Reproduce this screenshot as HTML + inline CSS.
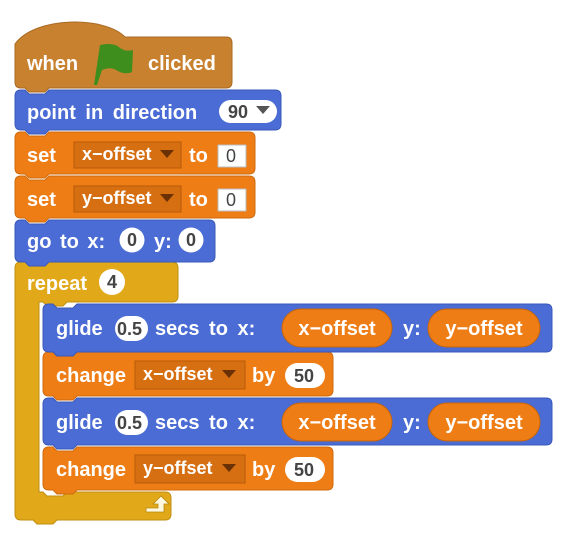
<!DOCTYPE html>
<html><head><meta charset="utf-8"><style>
html,body{margin:0;padding:0;background:#fff;width:569px;height:544px;overflow:hidden}
svg text{font-family:"Liberation Sans",Arial,sans-serif;font-weight:bold}
.w{fill:#fff;font-size:20px}
.d{fill:#444;font-size:18px}
.dd{fill:#fff;font-size:18px}
</style></head><body>
<svg width="569" height="544" viewBox="0 0 569 544" xmlns="http://www.w3.org/2000/svg">
<!-- repeat C -->
<path d="M15,268 q0,-6 6,-6 h151 q6,0 6,6 v28 q0,6 -6,6 h-105 l-4,4 h-16 l-4,-4 h-4 v190 h4 l4,4 h16 l4,-4 h98 q6,0 6,6 v16 q0,6 -6,6 h-108 l-4,4 h-16 l-4,-4 h-12 q-6,0 -6,-6 z" fill="#e1a91a" stroke="#c08f10" stroke-width="1"/>
<path d="M146,512 h18 v-8 h5 l-8,-8 l-8,8 h5 v4 h-12 z" fill="#fff8e0" stroke="#b8860b" stroke-width="0.8"/>

<!-- change y -->
<path d="M43,453 q0,-6 6,-6 h4 l4,4 h16 l4,-4 h250 q6,0 6,6 v31 q0,6 -6,6 h-250 l-4,4 h-16 l-4,-4 h-4 q-6,0 -6,-6 z" fill="#ee7d16" stroke="#cf6a0c"/>
<text class="w" x="56" y="476">change</text>
<rect x="135" y="455" width="110" height="28" fill="#d66f12" stroke="#b85a08"/>
<text class="dd" x="143" y="474">y−offset</text>
<path d="M222,464 h14 l-7,8 z" fill="#6a3204"/>
<text class="w" x="252" y="476">by</text>
<rect x="285" y="457" width="40" height="25" rx="12.5" fill="#fff"/>
<text class="d" x="294" y="476">50</text>

<!-- glide2 -->
<path d="M43,404 q0,-6 6,-6 h4 l4,4 h16 l4,-4 h469 q6,0 6,6 v35 q0,6 -6,6 h-469 l-4,4 h-16 l-4,-4 h-4 q-6,0 -6,-6 z" fill="#4a6cd4" stroke="#3a58b8"/>
<text class="w" x="56" y="429">glide</text>
<rect x="115" y="410" width="33" height="25" rx="12.5" fill="#fff"/>
<text class="d" x="117" y="429">0.5</text>
<text class="w" x="155" y="429" word-spacing="4">secs to x:</text>
<rect x="282" y="403" width="110" height="38" rx="19" fill="#ee7d16" stroke="#c86408"/>
<text class="w" x="337" y="429" text-anchor="middle">x−offset</text>
<text class="w" x="403" y="429">y:</text>
<rect x="428" y="403" width="112" height="38" rx="19" fill="#ee7d16" stroke="#c86408"/>
<text class="w" x="484" y="429" text-anchor="middle">y−offset</text>

<!-- change x -->
<path d="M43,358 q0,-6 6,-6 h4 l4,4 h16 l4,-4 h250 q6,0 6,6 v32 q0,6 -6,6 h-250 l-4,4 h-16 l-4,-4 h-4 q-6,0 -6,-6 z" fill="#ee7d16" stroke="#cf6a0c"/>
<text class="w" x="56" y="382">change</text>
<rect x="135" y="361" width="110" height="28" fill="#d66f12" stroke="#b85a08"/>
<text class="dd" x="143" y="380">x−offset</text>
<path d="M222,370 h14 l-7,8 z" fill="#6a3204"/>
<text class="w" x="252" y="382">by</text>
<rect x="285" y="363" width="40" height="25" rx="12.5" fill="#fff"/>
<text class="d" x="294" y="382">50</text>

<!-- glide1 -->
<path d="M43,310 q0,-6 6,-6 h4 l4,4 h16 l4,-4 h469 q6,0 6,6 v36 q0,6 -6,6 h-469 l-4,4 h-16 l-4,-4 h-4 q-6,0 -6,-6 z" fill="#4a6cd4" stroke="#3a58b8"/>
<text class="w" x="56" y="335">glide</text>
<rect x="115" y="316" width="33" height="25" rx="12.5" fill="#fff"/>
<text class="d" x="117" y="335">0.5</text>
<text class="w" x="155" y="335" word-spacing="4">secs to x:</text>
<rect x="282" y="309" width="110" height="38" rx="19" fill="#ee7d16" stroke="#c86408"/>
<text class="w" x="337" y="335" text-anchor="middle">x−offset</text>
<text class="w" x="403" y="335">y:</text>
<rect x="428" y="309" width="112" height="38" rx="19" fill="#ee7d16" stroke="#c86408"/>
<text class="w" x="484" y="335" text-anchor="middle">y−offset</text>

<text class="w" x="27" y="290">repeat</text>
<circle cx="112" cy="282" r="13" fill="#fff"/>
<text class="d" x="107" y="288">4</text>

<!-- go to -->
<path d="M15,226 q0,-6 6,-6 h4 l4,4 h16 l4,-4 h160 q6,0 6,6 v30 q0,6 -6,6 h-160 l-4,4 h-16 l-4,-4 h-4 q-6,0 -6,-6 z" fill="#4a6cd4" stroke="#3a58b8"/>
<text class="w" x="27" y="248" word-spacing="3">go to x:</text>
<circle cx="132" cy="240" r="12.5" fill="#fff"/>
<text class="d" x="127" y="246">0</text>
<text class="w" x="154" y="248">y:</text>
<circle cx="191" cy="240" r="12.5" fill="#fff"/>
<text class="d" x="186" y="246">0</text>

<!-- set y -->
<path d="M15,182 q0,-6 6,-6 h4 l4,4 h16 l4,-4 h200 q6,0 6,6 v30 q0,6 -6,6 h-200 l-4,4 h-16 l-4,-4 h-4 q-6,0 -6,-6 z" fill="#ee7d16" stroke="#cf6a0c"/>
<text class="w" x="27" y="206">set</text>
<rect x="74" y="186" width="107" height="26" fill="#d66f12" stroke="#b85a08"/>
<text class="dd" x="82" y="204">y−offset</text>
<path d="M160,194 h14 l-7,8 z" fill="#6a3204"/>
<text class="w" x="189" y="206">to</text>
<rect x="218" y="189" width="28" height="22" fill="#fff" stroke="#bbb"/>
<text class="d" x="226" y="206" style="font-weight:normal">0</text>

<!-- set x -->
<path d="M15,138 q0,-6 6,-6 h4 l4,4 h16 l4,-4 h200 q6,0 6,6 v30 q0,6 -6,6 h-200 l-4,4 h-16 l-4,-4 h-4 q-6,0 -6,-6 z" fill="#ee7d16" stroke="#cf6a0c"/>
<text class="w" x="27" y="162">set</text>
<rect x="74" y="142" width="107" height="26" fill="#d66f12" stroke="#b85a08"/>
<text class="dd" x="82" y="160">x−offset</text>
<path d="M160,150 h14 l-7,8 z" fill="#6a3204"/>
<text class="w" x="189" y="162">to</text>
<rect x="218" y="145" width="28" height="22" fill="#fff" stroke="#bbb"/>
<text class="d" x="226" y="162" style="font-weight:normal">0</text>

<!-- point in direction -->
<path d="M15,96 q0,-6 6,-6 h4 l4,4 h16 l4,-4 h226 q6,0 6,6 v28 q0,6 -6,6 h-226 l-4,4 h-16 l-4,-4 h-4 q-6,0 -6,-6 z" fill="#4a6cd4" stroke="#3a58b8"/>
<text class="w" x="27" y="119" word-spacing="4">point in direction</text>
<rect x="219" y="100" width="58" height="23" rx="11.5" fill="#fff"/>
<text class="d" x="228" y="118">90</text>
<path d="M256,106 h14 l-7,8 z" fill="#555"/>

<!-- hat -->
<path d="M15,82 v-38 c20,-28 90,-28 110,-7 h101 q6,0 6,6 v39 q0,6 -6,6 h-177 l-4,4 h-16 l-4,-4 h-4 q-6,0 -6,-6 z" fill="#c8812f" stroke="#a86a22"/>
<text class="w" x="27" y="70">when</text>
<path d="M100,45 q14,-3 20,3 q6,4 13,2 l-1,22 q-7,3 -14,-1 q-7,-5 -16,-1 l-5,15 h-3 z" fill="#3d8e1c"/>
<text class="w" x="148" y="70">clicked</text>
</svg>
</body></html>
